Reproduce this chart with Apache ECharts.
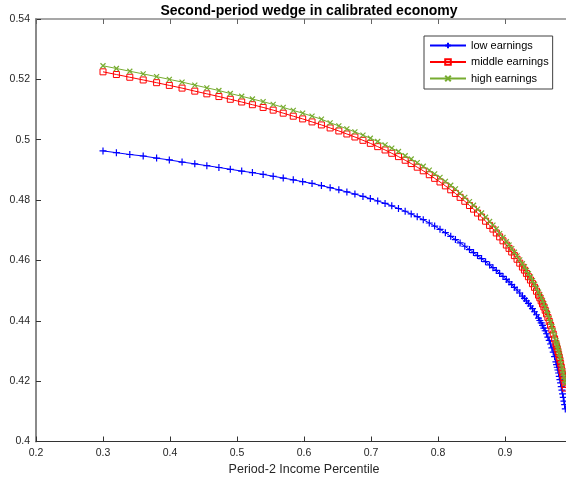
<!DOCTYPE html>
<html>
<head>
<meta charset="utf-8">
<script src="https://cdn.jsdelivr.net/npm/echarts@6/dist/echarts.min.js"></script>
<style>html,body{margin:0;padding:0;background:#fff;}#c{width:566px;height:477px;}</style>
</head>
<body>
<div id="c"></div>
<script>
const percentile = [
0.300,0.320,0.340,0.360,0.380,0.399,0.418,0.437,0.455,0.473,
0.490,0.507,0.523,0.539,0.554,0.569,0.584,0.598,0.612,0.626,
0.639,0.652,0.664,0.676,0.688,0.699,0.710,0.721,0.731,0.741,
0.751,0.760,0.769,0.778,0.787,0.795,0.803,0.811,0.819,0.826,
0.833,0.840,0.847,0.853,0.859,0.865,0.871,0.877,0.882,0.887,
0.892,0.897,0.902,0.906,0.910,0.914,0.918,0.922,0.926,0.929,
0.932,0.935,0.938,0.941,0.944,0.947,0.950,0.952,0.954,0.956,
0.958,0.960,0.962,0.964,0.966,0.968,0.970,0.972,0.974,0.976,
0.977,0.978,0.979,0.980,0.981,0.982,0.983,0.984,0.985,0.986,
0.987,0.988,0.989,0.990];

const lowEarnings = [
0.4963,0.4957,0.4951,0.4946,0.4939,0.4933,0.4926,0.4920,0.4914,0.4908,
0.4902,0.4896,0.4891,0.4885,0.4879,0.4873,0.4867,0.4861,0.4855,0.4848,
0.4841,0.4834,0.4827,0.4820,0.4812,0.4805,0.4797,0.4789,0.4781,0.4772,
0.4763,0.4754,0.4745,0.4735,0.4724,0.4714,0.4703,0.4692,0.4680,0.4669,
0.4658,0.4647,0.4636,0.4626,0.4616,0.4606,0.4596,0.4585,0.4576,0.4567,
0.4557,0.4547,0.4537,0.4529,0.4520,0.4511,0.4502,0.4492,0.4482,0.4474,
0.4466,0.4458,0.4449,0.4440,0.4430,0.4420,0.4409,0.4401,0.4393,0.4385,
0.4376,0.4367,0.4357,0.4346,0.4335,0.4323,0.4310,0.4296,0.4281,0.4264,
0.4255,0.4246,0.4237,0.4227,0.4216,0.4205,0.4194,0.4182,0.4170,0.4158,
0.4146,0.4134,0.4122,0.4108];

const middleEarnings = [
0.5225,0.5216,0.5207,0.5198,0.5189,0.5180,0.5171,0.5161,0.5152,0.5143,
0.5134,0.5125,0.5116,0.5107,0.5098,0.5088,0.5078,0.5069,0.5059,0.5049,
0.5039,0.5029,0.5019,0.5009,0.4998,0.4988,0.4977,0.4966,0.4955,0.4944,
0.4932,0.4921,0.4909,0.4897,0.4884,0.4872,0.4860,0.4847,0.4834,0.4822,
0.4809,0.4796,0.4782,0.4770,0.4757,0.4744,0.4730,0.4716,0.4704,0.4691,
0.4678,0.4665,0.4651,0.4640,0.4628,0.4616,0.4604,0.4591,0.4578,0.4568,
0.4557,0.4546,0.4535,0.4523,0.4511,0.4498,0.4485,0.4476,0.4466,0.4456,
0.4446,0.4435,0.4423,0.4411,0.4398,0.4385,0.4371,0.4356,0.4340,0.4324,
0.4316,0.4307,0.4298,0.4289,0.4279,0.4269,0.4258,0.4246,0.4234,0.4223,
0.4212,0.4200,0.4189,0.4177];

const highEarnings = [
0.5245,0.5236,0.5227,0.5218,0.5209,0.5200,0.5191,0.5181,0.5172,0.5163,
0.5153,0.5144,0.5135,0.5126,0.5117,0.5107,0.5097,0.5088,0.5078,0.5068,
0.5056,0.5046,0.5036,0.5026,0.5015,0.5005,0.4994,0.4983,0.4972,0.4961,
0.4947,0.4936,0.4924,0.4912,0.4899,0.4887,0.4875,0.4862,0.4849,0.4837,
0.4822,0.4809,0.4795,0.4783,0.4770,0.4757,0.4743,0.4729,0.4717,0.4704,
0.4689,0.4676,0.4662,0.4651,0.4639,0.4627,0.4615,0.4602,0.4589,0.4579,
0.4567,0.4556,0.4545,0.4533,0.4521,0.4508,0.4495,0.4486,0.4476,0.4466,
0.4456,0.4445,0.4433,0.4421,0.4408,0.4395,0.4381,0.4366,0.4350,0.4334,
0.4327,0.4318,0.4309,0.4300,0.4290,0.4280,0.4269,0.4257,0.4245,0.4234,
0.4225,0.4214,0.4203,0.4192];

const seriesNames = ['low earnings', 'middle earnings', 'high earnings'];
const xTicks = {min: 0.2, max: 1.0, interval: 0.1};
const yTicks = {min: 0.4, max: 0.54, interval: 0.02};

const FONT = '"Liberation Sans", Arial, Helvetica, sans-serif';
const pair = ys => percentile.map((x, i) => [x, ys[i]]);

const chart = echarts.init(document.getElementById('c'), null, {renderer: 'canvas'});
chart.setOption({
  animation: false,
  backgroundColor: '#ffffff',
  title: {
    text: 'Second-period wedge in calibrated economy',
    left: 304, top: -1, textAlign: 'center',
    textStyle: {fontFamily: FONT, fontSize: 14, fontWeight: 'bold', color: '#000'}
  },
  grid: {left: 36, top: 19, width: 536, height: 422.5, containLabel: false, outerBoundsMode: 'none'},
  legend: {
    orient: 'vertical', left: 424, top: 36,
    padding: [4, 4, 5, 5],
    itemWidth: 36, itemHeight: 7, itemGap: 5.5,
    borderColor: '#404040', borderWidth: 1, backgroundColor: '#fff',
    textStyle: {fontFamily: FONT, fontSize: 11, color: '#000'},
    data: seriesNames
  },
  xAxis: [{
    type: 'value', min: xTicks.min, max: xTicks.max, interval: xTicks.interval,
    name: 'Period-2 Income Percentile', nameLocation: 'middle', nameGap: 20,
    nameTextStyle: {fontFamily: FONT, fontSize: 12.5, color: '#262626'},
    axisLine: {onZero: false, lineStyle: {color: '#333', width: 1}},
    axisTick: {inside: true, length: 5, lineStyle: {color: '#333'}},
    axisLabel: {fontFamily: FONT, fontSize: 10.5, color: '#262626', margin: 6, showMaxLabel: false},
    splitLine: {show: false}
  }, {
    type: 'value', position: 'top', min: xTicks.min, max: xTicks.max, interval: xTicks.interval,
    axisLine: {onZero: false, lineStyle: {color: '#8a8a8a', width: 1.5}},
    axisTick: {inside: true, length: 5, lineStyle: {color: '#666'}},
    axisLabel: {show: false},
    splitLine: {show: false}
  }],
  yAxis: {
    type: 'value', min: yTicks.min, max: yTicks.max, interval: yTicks.interval,
    axisLine: {show: true, onZero: false, lineStyle: {color: '#8a8a8a', width: 2}},
    axisTick: {show: true, inside: true, length: 5, lineStyle: {color: '#333'}},
    axisLabel: {fontFamily: FONT, fontSize: 10.5, color: '#262626', margin: 6},
    splitLine: {show: false}
  },
  series: [{
    name: seriesNames[0], type: 'line', data: pair(lowEarnings),
    showAllSymbol: true,
    symbol: 'path://M0,5L10,5M5,0L5,10', symbolSize: 7,
    lineStyle: {color: '#0000ff', width: 1},
    itemStyle: {color: '#0000ff', borderColor: '#0000ff', borderWidth: 1.2},
    z: 3
  }, {
    name: seriesNames[1], type: 'line', data: pair(middleEarnings),
    showAllSymbol: true,
    symbol: 'rect', symbolSize: 6,
    lineStyle: {color: '#ff0000', width: 1},
    itemStyle: {color: 'rgba(255,255,255,0)', borderColor: '#ff0000', borderWidth: 1},
    z: 4
  }, {
    name: seriesNames[2], type: 'line', data: pair(highEarnings),
    showAllSymbol: true,
    symbol: 'path://M0,0L10,10M10,0L0,10', symbolSize: 5,
    lineStyle: {color: '#77ac30', width: 1},
    itemStyle: {color: '#77ac30', borderColor: '#77ac30', borderWidth: 1.2},
    z: 5
  }]
});
</script>
</body>
</html>
